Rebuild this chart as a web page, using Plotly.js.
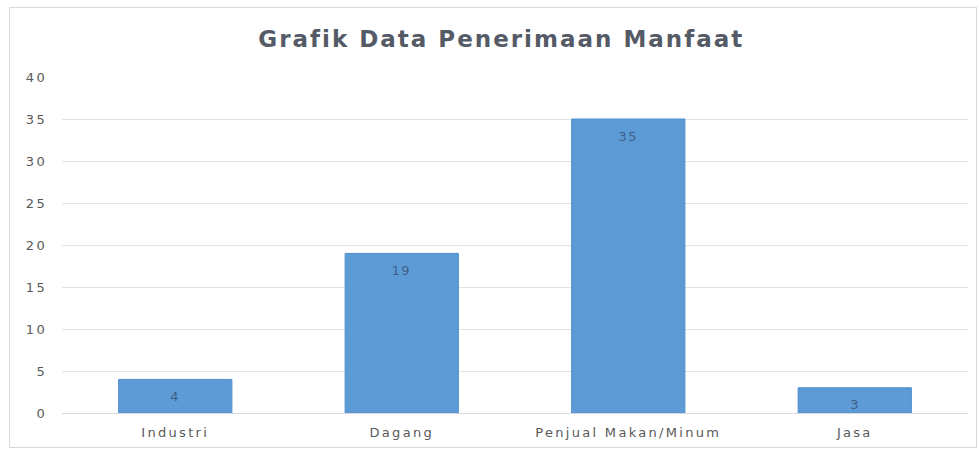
<!DOCTYPE html>
<html>
<head>
<meta charset="utf-8">
<script src="https://cdn.plot.ly/plotly-3.0.1.min.js"></script>
<style>
  html, body { margin: 0; padding: 0; background: #ffffff; }
  #frame { position: absolute; left: 9px; top: 7px; width: 968px; height: 441px; border: 1px solid #d9d9d9; box-sizing: border-box; }
  #chart { position: absolute; left: 0; top: 0; width: 979px; height: 449px; }
  #chart .xtick text, #chart .ytick text { letter-spacing: 2.3px; }
  #chart .annotation-text { letter-spacing: 1.5px; }
  #chart .gtitle { letter-spacing: 2px; }
</style>
</head>
<body>
<div id="frame"></div>
<div id="chart"></div>
<script>
const categories = ["Industri", "Dagang", "Penjual Makan/Minum", "Jasa"];
const values = [4, 19, 35, 3];
const yTicks = [0, 5, 10, 15, 20, 25, 30, 35, 40];

const FONT = "DejaVu Sans, sans-serif";

const trace = {
  type: "bar",
  x: categories,
  y: values,
  marker: { color: "#5d9bd7", line: { color: "#4f8fcc", width: 1 } },
  hoverinfo: "none"
};

const annotations = categories.map((c, i) => ({
  x: c,
  y: values[i],
  xref: "x",
  yref: "y",
  text: String(values[i]),
  showarrow: false,
  yanchor: "middle",
  yshift: -17,
  font: { family: FONT, size: 13, color: "#3f5f88" }
}));

const layout = {
  width: 979,
  height: 449,
  paper_bgcolor: "rgba(0,0,0,0)",
  plot_bgcolor: "rgba(0,0,0,0)",
  margin: { l: 62, r: 11, t: 77, b: 36 },
  bargap: 0.5,
  showlegend: false,
  annotations: annotations,
  title: {
    text: "<b>Grafik Data Penerimaan Manfaat</b>",
    x: 0.512, xanchor: "center",
    y: 0.913, yanchor: "middle",
    font: { family: FONT, size: 23, color: "#545b66" }
  },
  xaxis: {
    type: "category",
    showgrid: false,
    showline: false,
    zeroline: false,
    ticks: "",
    ticklabelstandoff: 10,
    tickfont: { family: FONT, size: 13, color: "#595959" }
  },
  yaxis: {
    range: [0, 40],
    tickvals: yTicks,
    ticktext: yTicks.map(String),
    showgrid: true,
    gridcolor: "#e3e3e3",
    gridwidth: 1,
    zeroline: true,
    zerolinecolor: "#d9d9d9",
    zerolinewidth: 1,
    showline: false,
    ticks: "",
    ticklabelstandoff: 14,
    tickfont: { family: FONT, size: 13, color: "#595959" }
  }
};

Plotly.newPlot("chart", [trace], layout, { displayModeBar: false, staticPlot: true });
</script>
</body>
</html>
